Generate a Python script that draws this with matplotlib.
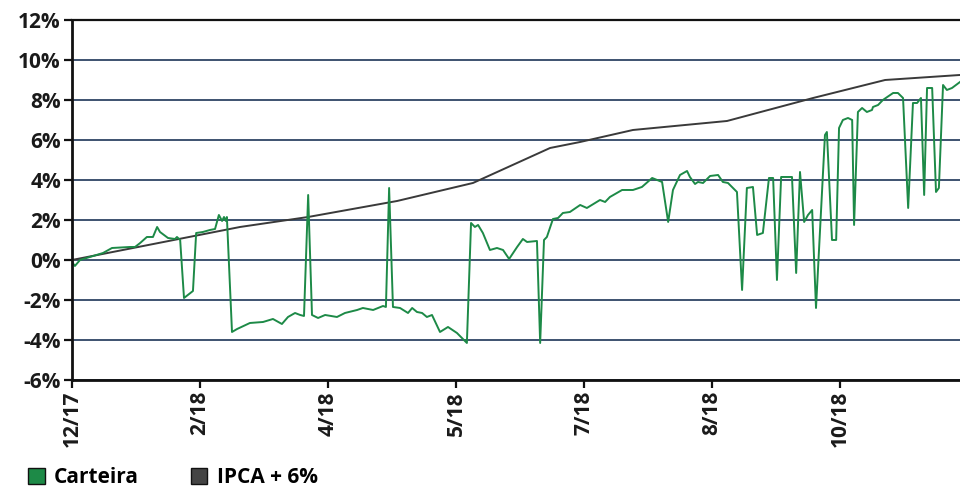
import matplotlib
matplotlib.use("Agg")
import matplotlib.pyplot as plt
from matplotlib.patches import Patch
from matplotlib.ticker import FuncFormatter

plt.rcParams['font.family'] = ['Open Sans', 'DejaVu Sans']

# tick labels on the category axis (one label every 40 points)
tick_pos = [0, 40, 80, 120, 160, 200, 240]
tick_labels = ["12/17", "2/18", "4/18", "5/18", "7/18", "8/18", "10/18"]

# Carteira (portfolio return, %)
carteira_x = [0, 0.9, 2.5, 9.7, 12.5, 18.1, 19.7, 21.3, 23.4, 25.3, 26.6, 27.5, 30, 32.2, 32.8,
              33.8, 35, 37.8, 38.8, 40.9, 43.1, 44.7, 45.3, 45.9, 46.9, 47.5, 48.1, 48.4, 50,
              51.6, 55.6, 59.7, 62.8, 65.6, 67.5, 69.7, 71.3, 72.5, 73.8, 75, 76.9, 79.1, 82.8,
              85.3, 89.1, 90.9, 94.1, 97.2, 98.1, 99.1, 100.3, 102.5, 105, 106.3, 107.8, 109.4,
              110.9, 112.5, 115, 117.5, 120.3, 123.4, 124.7, 125.9, 126.9, 128.4, 130.6, 132.8,
              134.7, 136.6, 139.1, 140.9, 142.2, 145.3, 146.3, 147.5, 148.4, 150.3, 151.9, 153.4,
              155.6, 158.8, 160.9, 165, 166.6, 168.1, 171.9, 175.3, 178.1, 181.3, 184.4, 186.3,
              187.8, 190, 192.2, 193.1, 194.7, 195.6, 197.2, 199.4, 201.9, 203.4, 205, 207.8,
              209.4, 210.9, 212.8, 214.1, 215.9, 217.8, 219.1, 220.3, 221.6, 225, 226.3, 227.5,
              228.8, 230, 231.3, 232.5, 235.3, 235.9, 237.5, 238.8, 239.7, 240.9, 242.5, 243.8,
              244.4, 245.6, 246.9, 248.4, 250, 250.3, 251.9, 253.4, 256.6, 258.1, 259.7, 261.3,
              262.8, 264.1, 265.3, 266.3, 267.2, 268.8, 270, 270.9, 272.2, 273.4, 275, 277.5]
carteira_y = [-0.1, -0.3, 0, 0.35, 0.6, 0.65, 0.65, 0.85, 1.15, 1.15, 1.65, 1.4, 1.1, 1.05, 1.15,
              1.0, -1.9, -1.55, 1.35, 1.4, 1.5, 1.55, 1.9, 2.25, 1.95, 2.15, 1.95, 2.15, -3.6,
              -3.45, -3.15, -3.1, -2.95, -3.2, -2.85, -2.65, -2.75, -2.8, 3.25, -2.75, -2.9, -2.75,
              -2.85, -2.65, -2.5, -2.4, -2.5, -2.3, -2.35, 3.6, -2.35, -2.4, -2.65, -2.4, -2.6,
              -2.65, -2.85, -2.75, -3.6, -3.35, -3.65, -4.15, 1.85, 1.65, 1.75, 1.35, 0.5, 0.6,
              0.5, 0.05, 0.65, 1.05, 0.9, 0.95, -4.15, 1.0, 1.15, 2.05, 2.1, 2.35,
              2.4, 2.75, 2.6, 3.0, 2.9, 3.15, 3.5, 3.5, 3.65, 4.1, 3.9, 1.9,
              3.5, 4.25, 4.45, 4.15, 3.8, 3.9, 3.85, 4.2, 4.25, 3.9, 3.85, 3.4,
              -1.5, 3.6, 3.65, 1.25, 1.35, 4.1, 4.1, -1.0, 4.15, 4.15, -0.65, 4.4,
              1.9, 2.25, 2.5, -2.4, 6.25, 6.4, 1.0, 1.0, 6.6, 7.0, 7.1, 7.0,
              1.75, 7.4, 7.6, 7.4, 7.5, 7.65, 7.75, 8.0, 8.35, 8.35, 8.1, 2.6,
              7.85, 7.85, 8.1, 3.25, 8.6, 8.6, 3.4, 3.6, 8.75, 8.5, 8.6, 8.9]

# IPCA + 6% benchmark (%)
ipca_x = [0, 52.5, 73.8, 101.6, 125.3, 149.4, 158.8, 175.3, 204.7, 231.6, 254.1, 277.5]
ipca_y = [0, 1.65, 2.15, 2.95, 3.85, 5.6, 5.9, 6.5, 6.95, 8.1, 9.0, 9.25]

green = "#1d8a47"
dark = "#444444"

fig = plt.figure(figsize=(9.6, 4.91), dpi=100)
ax = fig.add_axes([0.075, 0.2261, 0.925, 0.7332])

ax.set_yticks(range(-6, 13, 2))
ax.yaxis.grid(True, color="#3d5270", linewidth=1.4)
ax.set_axisbelow(True)

ax.plot(ipca_x, ipca_y, color="#3a3a3a", linewidth=1.4)
ax.plot(carteira_x, carteira_y, color=green, linewidth=1.4)

ax.set_xlim(0, 277.5)
ax.set_ylim(-6, 12)
ax.set_xticks(tick_pos)
ax.set_xticklabels(tick_labels, rotation=90)
ax.yaxis.set_major_formatter(FuncFormatter(lambda v, p: "%d%%" % v))

for lab in ax.get_xticklabels() + ax.get_yticklabels():
    lab.set_fontsize(15)
    lab.set_fontweight("bold")
    lab.set_color("#1a1a1a")

ax.spines["right"].set_visible(False)
for s in ["left", "bottom", "top"]:
    ax.spines[s].set_color("#111111")
ax.spines["left"].set_linewidth(2)
ax.spines["bottom"].set_linewidth(2)
ax.spines["top"].set_linewidth(1.6)
ax.tick_params(axis="both", direction="out", length=6, width=1.6, color="#111111", pad=2)

handles = [Patch(facecolor=green, edgecolor="#111111", label="Carteira"),
           Patch(facecolor=dark, edgecolor="#111111", label="IPCA + 6%")]
fig.legend(handles=handles, loc="lower left", bbox_to_anchor=(0.01, -0.032), ncol=2,
           frameon=False, handlelength=0.78, handleheight=0.78, handletextpad=0.45,
           columnspacing=2.5, prop={"size": 15, "weight": "bold"})

fig.savefig("out.png", dpi=100)
